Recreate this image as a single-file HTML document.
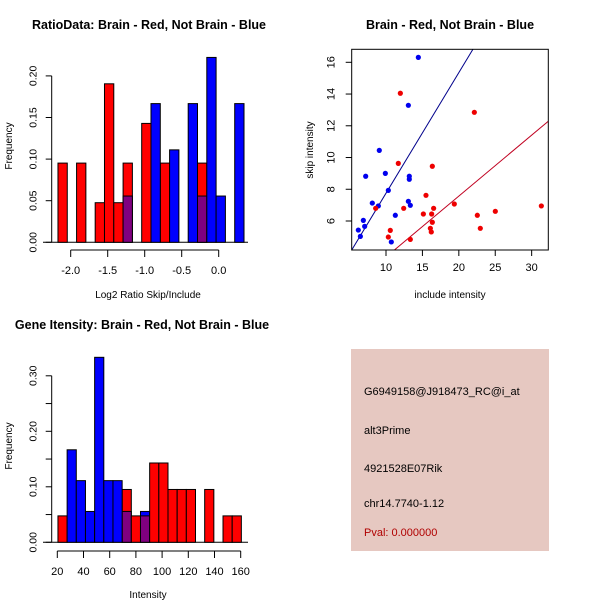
<!DOCTYPE html>
<html><head><meta charset="utf-8"><style>
html,body{margin:0;padding:0;background:#fff}
svg{display:block;font-family:"Liberation Sans",sans-serif}
</style></head><body>
<svg id="s" width="600" height="600" viewBox="0 0 600 600" xmlns="http://www.w3.org/2000/svg">
<rect x="0" y="0" width="600" height="600" fill="#fff"/>
<text x="149" y="29" font-size="12.5" font-weight="bold" text-anchor="middle">RatioData: Brain - Red, Not Brain - Blue</text>
<text x="148" y="298" font-size="10" text-anchor="middle">Log2 Ratio Skip/Include</text>
<text transform="translate(12,146) rotate(-90)" font-size="10" text-anchor="middle">Frequency</text>
<text x="450" y="29" font-size="12.5" font-weight="bold" text-anchor="middle">Brain - Red, Not Brain - Blue</text>
<text x="450" y="298" font-size="10" text-anchor="middle">include intensity</text>
<text transform="translate(313,150) rotate(-90)" font-size="10" text-anchor="middle">skip intensity</text>
<text x="142" y="329" font-size="12.5" font-weight="bold" text-anchor="middle">Gene Itensity: Brain - Red, Not Brain - Blue</text>
<text x="148" y="598" font-size="10" text-anchor="middle">Intensity</text>
<text transform="translate(12,446) rotate(-90)" font-size="10" text-anchor="middle">Frequency</text>
<g>
<rect x="351" y="349" width="198" height="202" fill="#e6c8c1"/>
<text x="364" y="395" font-size="11">G6949158@J918473_RC@i_at</text>
<text x="364" y="434" font-size="11">alt3Prime</text>
<text x="364" y="472" font-size="11">4921528E07Rik</text>
<text x="364" y="507" font-size="11">chr14.7740-1.12</text>
<text x="364" y="536" font-size="11" fill="#b00000">Pval: 0.000000</text>
</g>
</svg>
<script>
// ---- Ratio histogram data (bin index, frequency) ----
const ratioRedBins = [0,2,4,5,6,7,9,11,15];
const ratioRedFreq = [0.0952,0.0952,0.0476,0.1905,0.0476,0.0952,0.1429,0.0952,0.0952];
const ratioBlueBins = [7,10,12,14,15,16,17,19];
const ratioBlueFreq = [0.0556,0.1667,0.1111,0.1667,0.0556,0.2222,0.0556,0.1667];
const ratioBinStart = -2.172;
const ratioBinWidth = 0.1257;
const ratioXTicks = [-2.0,-1.5,-1.0,-0.5,0.0];
const ratioXTickLabels = ["-2.0","-1.5","-1.0","-0.5","0.0"];
const ratioYTicks = [0,0.05,0.10,0.15,0.20];
const ratioYTickLabels = ["0.00","0.05","0.10","0.15","0.20"];
// ---- Gene intensity histogram ----
const geneRedBins = [0,7,8,9,10,11,12,13,14,16,18,19];
const geneRedFreq = [0.0476,0.0952,0.0476,0.0476,0.1429,0.1429,0.0952,0.0952,0.0952,0.0952,0.0476,0.0476];
const geneBlueBins = [1,2,3,4,5,6,7,9];
const geneBlueFreq = [0.1667,0.1111,0.0556,0.3333,0.1111,0.1111,0.0556,0.0556];
const geneBinStart = 20.5;
const geneBinWidth = 7;
const geneXTicks = [20,40,60,80,100,120,140,160];
const geneYTicks = [0,0.05,0.10,0.15,0.20,0.25,0.30];
const geneYTickLabels = ["0.00","","0.10","","0.20","","0.30"];
// ---- Scatter ----
const blueX = [14.44,13.07,9.08,7.21,9.91,13.2,13.2,10.32,8.12,8.95,13.07,13.34,11.28,6.89,7.07,6.2,6.48,10.73];
const blueY = [16.31,13.29,10.45,8.82,9.0,8.82,8.63,7.93,7.13,6.95,7.24,6.99,6.36,6.04,5.66,5.43,5.03,4.68];
const redX = [11.97,22.13,11.69,16.36,15.49,19.38,8.58,12.43,16.54,15.13,16.27,22.54,25.01,31.33,16.36,16.09,16.22,22.95,10.59,10.32,13.34];
const redY = [14.05,12.85,9.63,9.45,7.62,7.07,6.8,6.8,6.8,6.44,6.44,6.36,6.61,6.95,5.92,5.54,5.31,5.54,5.41,4.99,4.84];
const fitSlope = [0.76,0.384];
const fitIntercept = [0.15,-0.11];
const scatterXTicks = [10,15,20,25,30];
const scatterYTicks = [6,8,10,12,14,16];

const NS="http://www.w3.org/2000/svg";
const svg=document.getElementById('s');
function mk(tag,attrs,parent){const e=document.createElementNS(NS,tag);for(const k in attrs)e.setAttribute(k,attrs[k]);(parent||svg).appendChild(e);return e;}

function histogram(cfg){
  const g=mk('g',{});
  
  
  const xs=v=>cfg.x0px+(v-cfg.x0)*cfg.xk;
  const ys=v=>cfg.base-v*cfg.yk;
  const bl=mk('line',{x1:cfg.blx1,x2:cfg.blx2,y1:cfg.base,y2:cfg.base,stroke:'#000'},g);
  
  
  const redMap={};cfg.rb.forEach((b,i)=>redMap[b]=cfg.rf[i]);
  const blueMap={};cfg.bb.forEach((b,i)=>blueMap[b]=cfg.bf[i]);
  const all=new Set([...cfg.rb,...cfg.bb]);
  all.forEach(b=>{
    const l=xs(cfg.start+b*cfg.w), r=xs(cfg.start+(b+1)*cfg.w);
    const rv=redMap[b]||0, bv=blueMap[b]||0;
    const big=Math.max(rv,bv), small=Math.min(rv,bv);
    const bigCol=rv>=bv?'#ff0000':'#0000ff';
    const a=mk('rect',{x:l,y:ys(big),width:r-l,height:big*cfg.yk,fill:bigCol,stroke:'#000','stroke-width':1},g);
    
    
    if(small>0){
      const p=mk('rect',{x:l,y:ys(small),width:r-l,height:small*cfg.yk,fill:'#800080',stroke:'#000','stroke-width':1},g);
      
      
    }
  });
  const xa=mk('g',{},g);
  
  
  mk('line',{x1:xs(cfg.xt[0]),x2:xs(cfg.xt[cfg.xt.length-1]),y1:cfg.xaxY,y2:cfg.xaxY,stroke:'#000'},xa);
  cfg.xt.forEach((t,i)=>{
    mk('line',{x1:xs(t),x2:xs(t),y1:cfg.xaxY,y2:cfg.xaxY+7,stroke:'#000'},xa);
    const tx=mk('text',{x:xs(t),y:cfg.xaxY+24,'font-size':11,'text-anchor':'middle'},xa);
    tx.textContent=cfg.xl[i];
  });
  const ya=mk('g',{},g);
  
  
  mk('line',{x1:cfg.yaxX,x2:cfg.yaxX,y1:ys(cfg.yt[0]),y2:ys(cfg.yt[cfg.yt.length-1]),stroke:'#000'},ya);
  cfg.yt.forEach((t,i)=>{
    mk('line',{x1:cfg.yaxX-6,x2:cfg.yaxX,y1:ys(t),y2:ys(t),stroke:'#000'},ya);
    if(cfg.yl[i]){
      const tx=mk('text',{transform:`translate(${cfg.yaxX-15},${ys(t)}) rotate(-90)`,'font-size':10.5,'text-anchor':'middle'},ya);
      tx.textContent=cfg.yl[i];
    }
  });
}
histogram({name:'ratio-histogram',rb:ratioRedBins,rf:ratioRedFreq,bb:ratioBlueBins,bf:ratioBlueFreq,
  start:ratioBinStart,w:ratioBinWidth,x0:-2.0,x0px:70.7,xk:74,base:242.3,yk:832,
  blx1:43,blx2:248,xaxY:250,yaxX:51.7,xt:ratioXTicks,xl:ratioXTickLabels,yt:ratioYTicks,yl:ratioYTickLabels});
histogram({name:'gene-intensity-histogram',rb:geneRedBins,rf:geneRedFreq,bb:geneBlueBins,bf:geneBlueFreq,
  start:geneBinStart,w:geneBinWidth,x0:20,x0px:57.3,xk:1.31,base:542.3,yk:555,
  blx1:43,blx2:248,xaxY:551,yaxX:51.7,xt:geneXTicks,xl:geneXTicks.map(String),yt:geneYTicks,yl:geneYTickLabels});

(function(){
  const g=mk('g',{});
  
  
  const L=351.7,R=548.3,T=49.3,B=250;
  const xs=v=>386+(v-10)*7.283;
  const ys=v=>221-(v-6)*15.87;
  const inv=px=>10+(px-386)/7.283;
  mk('defs',{},g).innerHTML=`<clipPath id="clp"><rect x="${L}" y="${T}" width="${R-L}" height="${B-T}"/></clipPath>`;
  const cols=['#00008b','#c00020'];
  fitSlope.forEach((m,i)=>{
    const x1=inv(L),x2=inv(R);
    const ln=mk('line',{x1:xs(x1),y1:ys(m*x1+fitIntercept[i]),x2:xs(x2),y2:ys(m*x2+fitIntercept[i]),stroke:cols[i],'clip-path':'url(#clp)'},g);
    
    
  });
  blueX.forEach((x,i)=>{
    const c=mk('circle',{cx:xs(x),cy:ys(blueY[i]),r:2.6,fill:'#0000ee'},g);
    
    
  });
  redX.forEach((x,i)=>{
    const c=mk('circle',{cx:xs(x),cy:ys(redY[i]),r:2.6,fill:'#ee0000'},g);
    
    
  });
  const bx=mk('rect',{x:L,y:T,width:R-L,height:B-T,fill:'none',stroke:'#000'},g);
  
  
  const xa=mk('g',{},g);
  
  
  scatterXTicks.forEach(t=>{
    mk('line',{x1:xs(t),x2:xs(t),y1:B,y2:B+6,stroke:'#000'},xa);
    const tx=mk('text',{x:xs(t),y:B+21,'font-size':11,'text-anchor':'middle'},xa);
    tx.textContent=t;
  });
  const ya=mk('g',{},g);
  
  
  scatterYTicks.forEach(t=>{
    mk('line',{x1:L-6,x2:L,y1:ys(t),y2:ys(t),stroke:'#000'},ya);
    const tx=mk('text',{transform:`translate(${L-17},${ys(t)}) rotate(-90)`,'font-size':11,'text-anchor':'middle'},ya);
    tx.textContent=t;
  });
})();
</script>
</body></html>
